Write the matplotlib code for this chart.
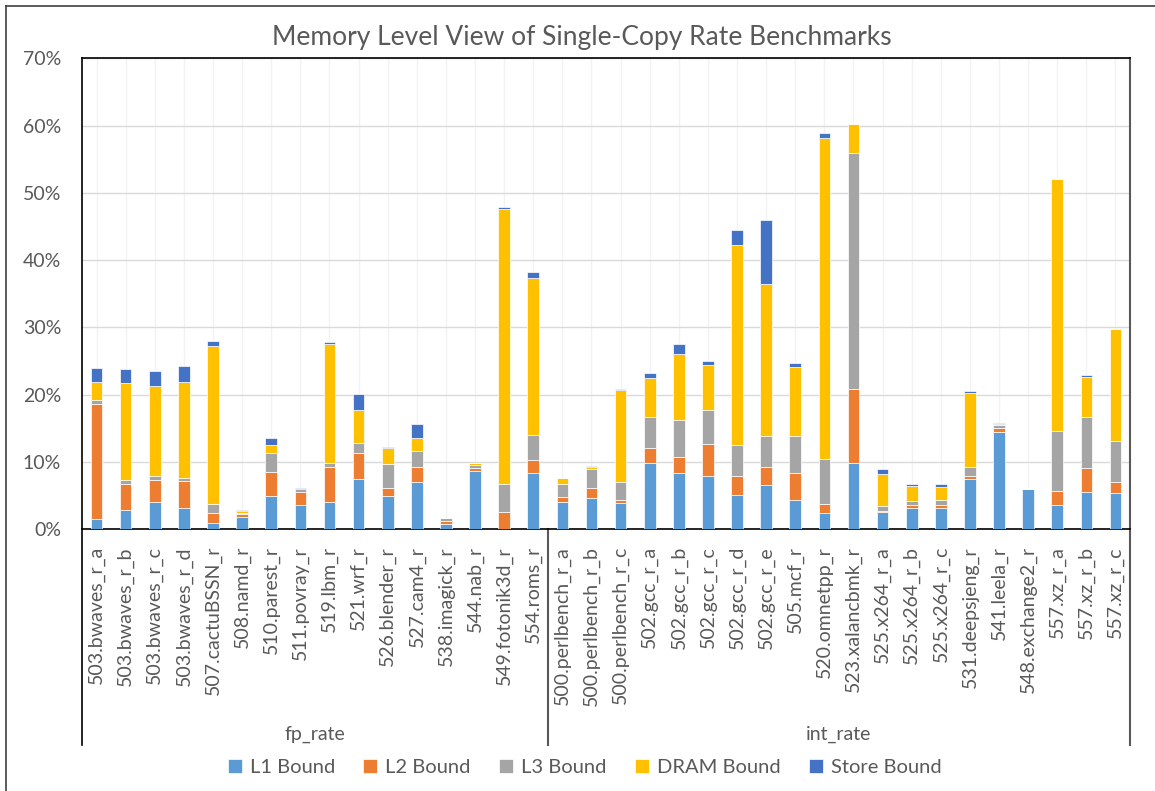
import matplotlib.pyplot as plt
import numpy as np
from matplotlib.lines import Line2D
from matplotlib.ticker import FuncFormatter

plt.rcParams['font.family'] = ['Lato', 'DejaVu Sans']

# %%
# Benchmarks, grouped by suite
fp_names = [
    "503.bwaves_r_a", "503.bwaves_r_b", "503.bwaves_r_c", "503.bwaves_r_d",
    "507.cactuBSSN_r", "508.namd_r", "510.parest_r", "511.povray_r",
    "519.lbm_r", "521.wrf_r", "526.blender_r", "527.cam4_r",
    "538.imagick_r", "544.nab_r", "549.fotonik3d_r", "554.roms_r",
]
int_names = [
    "500.perlbench_r_a", "500.perlbench_r_b", "500.perlbench_r_c",
    "502.gcc_r_a", "502.gcc_r_b", "502.gcc_r_c", "502.gcc_r_d", "502.gcc_r_e",
    "505.mcf_r", "520.omnetpp_r", "523.xalancbmk_r",
    "525.x264_r_a", "525.x264_r_b", "525.x264_r_c",
    "531.deepsjeng_r", "541.leela_r", "548.exchange2_r",
    "557.xz_r_a", "557.xz_r_b", "557.xz_r_c",
]
groups = ["fp_rate", "int_rate"]

# stall share in percent, one list per memory level (fp first, then int)
l1_bound = [1.6, 2.9, 4.0, 3.2, 0.9, 1.85, 4.9, 3.6, 4.0, 7.55, 5.0, 7.1, 0.8, 8.7, 0.0, 8.3,
            4.1, 4.7, 3.95, 9.8, 8.3, 8.0, 5.15, 6.6, 4.3, 2.5, 9.8, 2.6, 3.2, 3.2, 7.5, 14.5,
            5.95, 3.55, 5.5, 5.35]
l2_bound = [17.0, 3.8, 3.4, 3.95, 1.6, 0.45, 3.6, 2.0, 5.2, 3.75, 1.15, 2.1, 0.4, 0.4, 2.55, 1.95,
            0.75, 1.4, 0.35, 2.3, 2.4, 4.7, 2.85, 2.6, 4.0, 1.25, 11.0, 0.1, 0.35, 0.35, 0.5, 0.6,
            0.0, 2.2, 3.65, 1.75]
l3_bound = [0.6, 0.7, 0.55, 0.55, 1.3, 0.1, 2.9, 0.4, 0.65, 1.6, 3.55, 2.5, 0.45, 0.5, 4.15, 3.75,
            1.85, 2.9, 2.8, 4.6, 5.6, 5.0, 4.5, 4.7, 5.6, 6.75, 35.2, 0.7, 0.7, 0.75, 1.2, 0.45,
            0.05, 8.9, 7.55, 6.0]
dram_bound = [2.7, 14.3, 13.35, 14.2, 23.5, 0.3, 1.2, 0.0, 17.75, 4.8, 2.35, 1.8, 0.05, 0.3, 40.9, 23.3,
              1.0, 0.2, 13.6, 5.8, 9.8, 6.7, 29.7, 22.5, 10.2, 47.7, 4.3, 4.8, 2.25, 2.0, 11.1, 0.05,
              0.0, 37.35, 6.0, 16.7]
store_bound = [2.1, 2.2, 2.2, 2.3, 0.7, 0.2, 0.9, 0.2, 0.2, 2.4, 0.25, 2.2, 0.05, 0.0, 0.25, 0.9,
               0.0, 0.15, 0.2, 0.7, 1.4, 0.6, 2.3, 9.6, 0.55, 0.7, 0.0, 0.8, 0.2, 0.4, 0.3, 0.2,
               0.0, 0.0, 0.25, 0.0]

series = [
    ("L1 Bound", l1_bound, "#5B9BD5"),
    ("L2 Bound", l2_bound, "#ED7D31"),
    ("L3 Bound", l3_bound, "#A5A5A5"),
    ("DRAM Bound", dram_bound, "#FFC000"),
    ("Store Bound", store_bound, "#4472C4"),
]

names = fp_names + int_names
x = np.arange(len(names))
text_grey = "#595959"

fig = plt.figure(figsize=(11.55, 7.91), dpi=100)
ax = fig.add_axes([0.0710, 0.3308, 0.9074, 0.5955])

bottom = np.zeros(len(names))
for label, vals, color in series:
    vals = np.array(vals)
    ax.bar(x, vals, width=0.4, bottom=bottom, color=color, label=label,
           edgecolor="white", linewidth=0.5, zorder=3)
    bottom += vals

ax.set_xlim(-0.5, len(names) - 0.5)
ax.set_ylim(0, 70)
ax.set_yticks(np.arange(0, 71, 10))
ax.yaxis.set_major_formatter(FuncFormatter(lambda v, _: f"{v:.0f}%"))
ax.set_xticks(x)
ax.set_xticklabels(names, rotation=90, va="top", ha="center")

ax.grid(axis="y", color="#D9D9D9", linewidth=1.0, zorder=0)
ax.grid(axis="x", color="#F2F2F2", linewidth=1.0, zorder=0)
ax.set_axisbelow(True)

ax.tick_params(axis="y", length=0, pad=15, labelsize=14, labelcolor=text_grey)
ax.tick_params(axis="x", length=0, pad=12, labelsize=14, labelcolor=text_grey)

for side in ["left", "top", "bottom"]:
    ax.spines[side].set_color("black")
    ax.spines[side].set_linewidth(1.2)
ax.spines["right"].set_color(text_grey)
ax.spines["right"].set_linewidth(1.5)

# multi-level category axis: separators and group names
trans = ax.get_xaxis_transform()
split = len(fp_names) - 0.5
for xpos, col in [(-0.5, "black"), (split, text_grey), (len(names) - 0.5, text_grey)]:
    ax.add_line(Line2D([xpos, xpos], [0, -0.458], transform=trans, color=col,
                       linewidth=1.5 if col != "black" else 1.2, clip_on=False))
centers = [(-0.5 + split) / 2, (split + len(names) - 0.5) / 2]
for c, g in zip(centers, groups):
    ax.text(c, -0.436, g, transform=trans, ha="center", va="center",
            fontsize=14, color=text_grey)

fig.text(0.5035, 0.952, "Memory Level View of Single-Copy Rate Benchmarks",
         ha="center", va="center", fontsize=19, color=text_grey)

fig.legend(loc="center", bbox_to_anchor=(0.506, 0.030), ncol=5, frameon=False,
           fontsize=14.5, handlelength=0.7, handleheight=0.7, handletextpad=0.4,
           columnspacing=1.4, labelcolor=text_grey)

# outer chart border (only top and left edges fall inside the image)
fig.add_artist(Line2D([0.0048, 1.0], [0.9928, 0.9928], color="#3F3F3F", linewidth=1.2))
fig.add_artist(Line2D([0.0048, 0.0048], [0.0, 0.9928], color="#3F3F3F", linewidth=1.2))

fig.savefig("out.png", dpi=100)
